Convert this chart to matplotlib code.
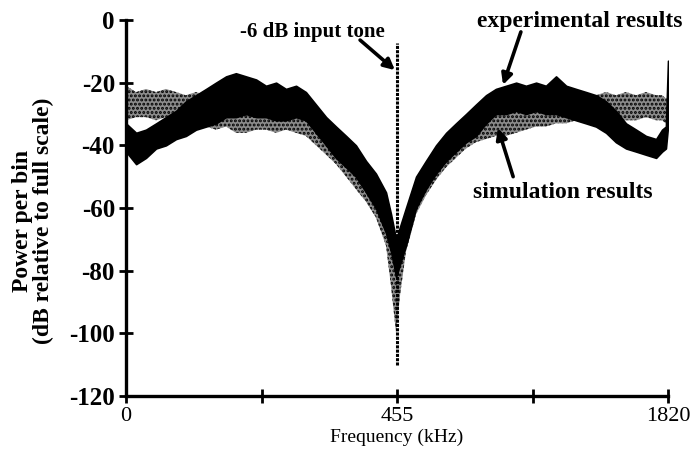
import numpy as np
import matplotlib
matplotlib.use("Agg")
import matplotlib.pyplot as plt

# frequency positions (kHz on the plotted scale) where the envelopes were read
freq = [0, 34, 67, 101, 134, 168, 201, 235, 269, 302, 336, 369, 403, 437,
        470, 504, 537, 571, 604, 638, 672, 705, 739, 772, 806, 839, 873,
        890, 907, 920, 940, 974, 1007, 1041, 1075, 1108, 1142, 1175, 1209,
        1242, 1276, 1310, 1343, 1377, 1410, 1444, 1478, 1511, 1545, 1578,
        1612, 1645, 1679, 1713, 1746, 1780, 1800, 1813, 1820]

# experimental results: upper / lower edge of the noisy trace (dB)
exp_hi = [-33, -36, -35, -33, -31, -29, -26, -24, -22, -20, -18, -17, -18, -19,
          -21, -20, -22, -21, -23, -27, -31, -34, -37, -40, -45, -49, -55,
          -62, -70, -66, -60, -50, -45, -40, -36, -33, -30, -27, -24,
          -22, -21, -20, -21, -20, -21, -18, -21, -22, -23, -24,
          -26, -29, -33, -35, -37, -38, -35, -34, -13]
exp_lo = [-42, -46, -44, -41, -40, -38, -37, -35, -34, -33, -31, -31, -30, -31,
          -31, -32, -32, -31, -32, -36, -40, -44, -47, -50, -55, -60, -68,
          -74, -82, -78, -72, -60, -54, -49, -45, -42, -39, -37, -33,
          -30, -30, -29, -30, -29, -30, -30, -31, -32, -33, -34,
          -36, -39, -41, -42, -43, -44, -42, -41, -34]

# simulation results: upper / lower edge (dB)
sim_hi = [-21, -23, -22, -23, -22, -23, -24, -23, -24, -24, -23, -24, -25, -25,
          -24, -25, -24, -26, -27, -30, -33, -36, -39, -43, -47, -52, -58,
          -66, -80, -72, -62, -52, -46, -42, -38, -35, -33, -31, -30,
          -30, -29, -28, -27, -26, -25, -25, -24, -24, -25, -24,
          -23, -24, -23, -24, -23, -24, -24, -25, -25]
sim_lo = [-32, -31, -31, -32, -31, -32, -33, -33, -34, -35, -34, -36, -36, -35,
          -35, -36, -35, -36, -37, -40, -43, -46, -50, -54, -58, -63, -72,
          -85, -100, -88, -74, -62, -56, -51, -47, -44, -41, -39, -38,
          -37, -37, -36, -35, -34, -34, -33, -33, -32, -33, -32,
          -32, -32, -32, -32, -31, -32, -32, -33, -33]

# -6 dB input tone bin
tone_freq = 910
tone_top = -7.3
tone_bottom = -110

xtick_pos = [0, 455, 910, 1365, 1820]
xtick_labels = ["0", "", "455", "", "1820"]
ytick_pos = [0, -20, -40, -60, -80, -100, -120]
ytick_labels = ["0", "-20", "-40", "-60", "-80", "-100", "-120"]

SERIF = ["Liberation Serif", "DejaVu Serif"]
plt.rcParams["font.family"] = SERIF
plt.rcParams["hatch.linewidth"] = 1.4

fig = plt.figure(figsize=(6.9, 4.58), dpi=100)
ax = fig.add_axes([126 / 690, 62 / 458, 542 / 690, 376 / 458])

ax.fill_between(freq, sim_lo, sim_hi, facecolor="0.55", edgecolor="black",
                hatch="....", linewidth=0, zorder=2)
ax.fill_between(freq, exp_lo, exp_hi, facecolor="black", edgecolor="black",
                linewidth=1.2, zorder=3)
ax.vlines(tone_freq, tone_bottom, tone_top, colors="black", linewidth=2.2,
          linestyles=(0, (1, 0.4)), zorder=4)

ax.set_xlim(0, 1820)
ax.set_ylim(-120, 0)
for s in ("top", "right"):
    ax.spines[s].set_visible(False)
for s in ("left", "bottom"):
    ax.spines[s].set_linewidth(2.4)

ax.set_xticks(xtick_pos)
ax.set_xticklabels(xtick_labels, fontsize=16)
ax.set_yticks(ytick_pos)
ax.set_yticklabels(ytick_labels, fontsize=18, fontweight="bold")
ax.tick_params(direction="inout", length=10, width=2, pad=3)
ax.tick_params(axis="x", pad=3)

ax.set_xlabel("Frequency (kHz)", fontsize=14, labelpad=2)
fig.text(33 / 690, 237 / 458, "Power per bin\n(dB relative to full scale)",
         rotation=90, ha="center", va="center", fontsize=17,
         fontweight="bold", linespacing=1.0)

arrow = dict(arrowstyle="-|>", lw=2.6, color="black", mutation_scale=16,
             shrinkA=0, shrinkB=0)
ax.text(625, -3.8, "-6 dB input tone", ha="center", va="center",
        fontsize=15, fontweight="bold")
ax.annotate("", xy=(903, -16), xytext=(786, -6.4), arrowprops=arrow)

ax.text(1522, -0.6, "experimental results", ha="center", va="center",
        fontsize=17, fontweight="bold", clip_on=False)
ax.annotate("", xy=(1266, -20.7), xytext=(1326, -3.8), arrowprops=arrow)

ax.text(1466, -54.9, "simulation results", ha="center", va="center",
        fontsize=17, fontweight="bold")
ax.annotate("", xy=(1249, -34.5), xytext=(1300, -50), arrowprops=arrow)

fig.savefig("out.png", dpi=100)
